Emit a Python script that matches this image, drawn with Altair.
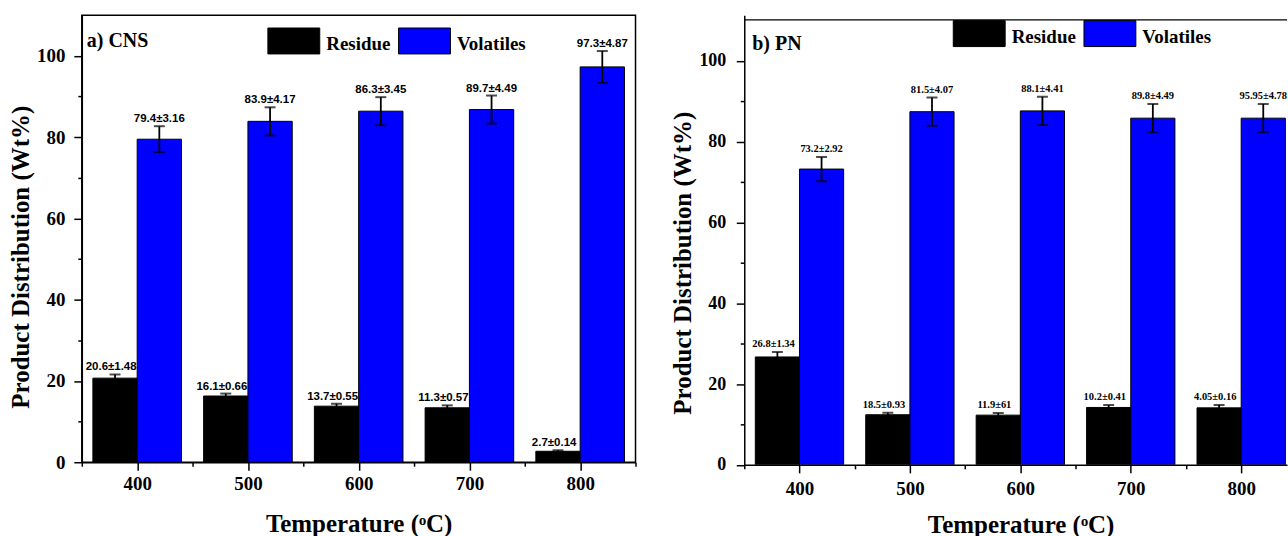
import altair as alt
import pandas as pd

# ---------------- data ----------------
temps = [400, 500, 600, 700, 800]
series_names = ["Residue", "Volatiles"]
series_colors = ["#000000", "#0000FF"]
panel_tags = ["a) CNS", "b) PN"]

cns_residue = [20.7, 16.3, 13.8, 13.4, 2.7]
cns_residue_err = [0.9, 0.6, 0.6, 0.6, 0.25]
cns_volatiles = [79.5, 83.9, 86.4, 86.8, 97.3]
cns_volatiles_err = [3.2, 3.45, 3.45, 3.45, 3.9]
cns_residue_labels = ["20.6±1.48", "16.1±0.66", "13.7±0.55", "11.3±0.57", "2.7±0.14"]
cns_volatiles_labels = ["79.4±3.16", "83.9±4.17", "86.3±3.45", "89.7±4.49", "97.3±4.87"]

pn_residue = [26.7, 12.4, 12.3, 14.2, 14.1]
pn_residue_err = [1.2, 0.5, 0.5, 0.6, 0.7]
pn_volatiles = [73.2, 87.4, 87.6, 85.8, 85.8]
pn_volatiles_err = [3.0, 3.5, 3.5, 3.5, 3.5]
pn_residue_labels = ["26.8±1.34", "18.5±0.93", "11.9±61", "10.2±0.41", "4.05±0.16"]
pn_volatiles_labels = ["73.2±2.92", "81.5±4.07", "88.1±4.41", "89.8±4.49", "95.95±4.78"]

x_ticks_left = [350, 400, 450, 500, 550, 600, 650, 700, 750, 800, 850]
x_ticks_right = [350, 400, 450, 500, 550, 600, 650, 700, 750, 800]
y_ticks = [0, 10, 20, 30, 40, 50, 60, 70, 80, 90, 100, 110]

SERIF = "Liberation Serif"
SANS = "Liberation Sans Narrow, Liberation Sans, Arial"
TITLE_SIZE = 25


def make_df(res, res_err, vol, vol_err, res_lab, vol_lab):
    rows = []
    for i, t in enumerate(temps):
        rows.append(dict(temp=t, series="Residue", value=res[i], err=res_err[i], label=res_lab[i]))
        rows.append(dict(temp=t, series="Volatiles", value=vol[i], err=vol_err[i], label=vol_lab[i]))
    return pd.DataFrame(rows)


def panel(df, tag, x_domain, x_values, y_max, width, height, legend_x, legend_y,
          lab_font, lab_size, lab_dy, tag_x, tag_y, ylab_size, ylab_pad,
          xlab_pad, xtitle_pad, ytitle_pad, title_x, title_y, top_border, clip):
    base = alt.Chart(df).transform_calculate(
        x0="datum.series == 'Residue' ? datum.temp - 40 : datum.temp"
    ).transform_calculate(
        x1="datum.x0 + 40",
        xc="datum.x0 + 20",
        tx="datum.series == 'Residue' ? datum.x0 + 16.5 : datum.x0 + 20",
        lo="datum.value - datum.err",
        hi="datum.value + datum.err",
    )
    xscale = alt.Scale(domain=x_domain, nice=False, zero=False)
    yscale = alt.Scale(domain=[0, y_max], nice=False)

    xaxis_kwargs = dict(
        title="Temperature (ᵒC)",
        values=x_values,
        labelExpr="datum.value % 100 == 0 ? datum.label : ''",
        tickSize=8,
        tickDash={"condition": {"test": "datum.value % 100 == 0", "value": [8, 0]}, "value": [4, 20]},
        tickWidth=1.5, tickColor="black",
        domainColor="black", domainWidth=1.5,
        grid=False,
        labelFont=SERIF, labelFontSize=19, labelFontWeight="bold", labelColor="black",
        labelPadding=xlab_pad,
        titleFont=SERIF, titleFontSize=TITLE_SIZE, titleFontWeight="bold", titleColor="black",
        titlePadding=xtitle_pad,
    )
    if title_x is not None:
        xaxis_kwargs["titleX"] = title_x
    xaxis = alt.Axis(**xaxis_kwargs)
    yaxis = alt.Axis(
        title="Product Distribution (Wt%)",
        values=y_ticks,
        labelExpr="datum.value % 20 == 0 && datum.value <= 100 ? datum.label : ''",
        tickSize=8,
        tickDash={"condition": {"test": "datum.value % 20 == 0", "value": [8, 0]}, "value": [4, 20]},
        tickOpacity={"condition": {"test": "datum.value > 100", "value": 0}, "value": 1},
        tickWidth=1.5, tickColor="black",
        domainColor="black", domainWidth=1.5,
        grid=False,
        labelFont=SERIF, labelFontSize=ylab_size, labelFontWeight="bold", labelColor="black",
        labelPadding=ylab_pad,
        titleFont=SERIF, titleFontSize=TITLE_SIZE, titleFontWeight="bold", titleColor="black",
        titlePadding=ytitle_pad,
        titleY=title_y,
    )

    bars = base.mark_bar(stroke="black", strokeWidth=1, clip=clip).encode(
        x=alt.X("x0:Q", scale=xscale, axis=xaxis),
        x2="x1:Q",
        y=alt.Y("value:Q", scale=yscale, axis=yaxis),
        y2=alt.datum(0),
        color=alt.Color(
            "series:N",
            scale=alt.Scale(domain=series_names, range=series_colors),
            legend=alt.Legend(
                title=None, orient="none", legendX=legend_x, legendY=legend_y,
                direction="horizontal",
                symbolType="M-1,-1H1V0H-1Z", symbolSize=2704,
                symbolStrokeColor="black", symbolStrokeWidth=1, symbolOpacity=1,
                labelFont=SERIF, labelFontSize=19, labelFontWeight="bold", labelColor="black",
                labelBaseline="bottom",
                labelOffset=6, columnPadding=5, padding=0,
            ),
        ),
    )
    whisker = base.mark_rule(color="black", strokeWidth=1.8, clip=clip).encode(
        x=alt.X("xc:Q", scale=xscale),
        y=alt.Y("lo:Q", scale=yscale),
        y2="hi:Q",
    )
    cap_top = base.mark_tick(color="black", orient="horizontal", size=11, thickness=2, clip=clip).encode(
        x=alt.X("xc:Q", scale=xscale),
        y=alt.Y("hi:Q", scale=yscale),
    )
    cap_bot = base.mark_tick(color="black", orient="horizontal", size=11, thickness=2, clip=clip).encode(
        x=alt.X("xc:Q", scale=xscale),
        y=alt.Y("lo:Q", scale=yscale),
    )
    texts = base.mark_text(
        font=lab_font, fontSize=lab_size, fontWeight="bold", color="black",
        baseline="alphabetic", dy=lab_dy, clip=clip,
    ).encode(
        x=alt.X("tx:Q", scale=xscale),
        y=alt.Y("hi:Q", scale=yscale),
        text="label:N",
    )
    tag_layer = alt.Chart(pd.DataFrame({"tag": [tag]})).mark_text(
        align="left", baseline="alphabetic", font=SERIF, fontSize=20,
        fontWeight="bold", color="black",
    ).encode(x=alt.value(tag_x), y=alt.value(tag_y), text="tag:N")

    layers = [bars, whisker, cap_top, cap_bot, texts, tag_layer]
    if top_border is not None:
        border = alt.Chart(pd.DataFrame({"tag": [tag]})).mark_rule(
            color="black", strokeWidth=1.5
        ).encode(x=alt.value(0), x2=alt.value(width), y=alt.value(top_border))
        layers.append(border)
    return alt.layer(*layers).properties(width=width, height=height)


df_cns = make_df(cns_residue, cns_residue_err, cns_volatiles, cns_volatiles_err,
                 cns_residue_labels, cns_volatiles_labels)
df_pn = make_df(pn_residue, pn_residue_err, pn_volatiles, pn_volatiles_err,
                pn_residue_labels, pn_volatiles_labels)

left = panel(df_cns, panel_tags[0], [350, 850], x_ticks_left, 110, 555, 448, 186, 12,
             SANS, 11.5, -4, 5, 32, 19, 9, 4, 18, 3, None, 242, None, False).properties(
    view=alt.ViewBackground(stroke="black", strokeWidth=1.5)
)
right = panel(df_pn, panel_tags[1], [350, 841.5], x_ticks_right, 111.26, 544, 450.6, 209, 4.6,
              SERIF, 10.5, -5, 8, 34.6, 18, 10.5, 7, 13.5, 3, 277, 248, 4.6, True).properties(
    view=alt.ViewBackground(stroke=None)
)

chart = alt.hconcat(left, right, spacing=33).resolve_scale(
    x="independent", y="independent", color="independent"
).resolve_legend(color="independent").properties(
    padding={"left": 7, "top": 13.7, "right": 0, "bottom": 0},
    background="white",
).configure_view(stroke=None).configure_axis(
    labelFont=SERIF, labelFontWeight="bold", labelColor="black",
    titleFont=SERIF, titleFontWeight="bold", titleColor="black", titleFontSize=TITLE_SIZE,
    domainColor="black", tickColor="black", grid=False,
)

chart.save("out.html", embed_options={"renderer": "svg", "actions": False})
